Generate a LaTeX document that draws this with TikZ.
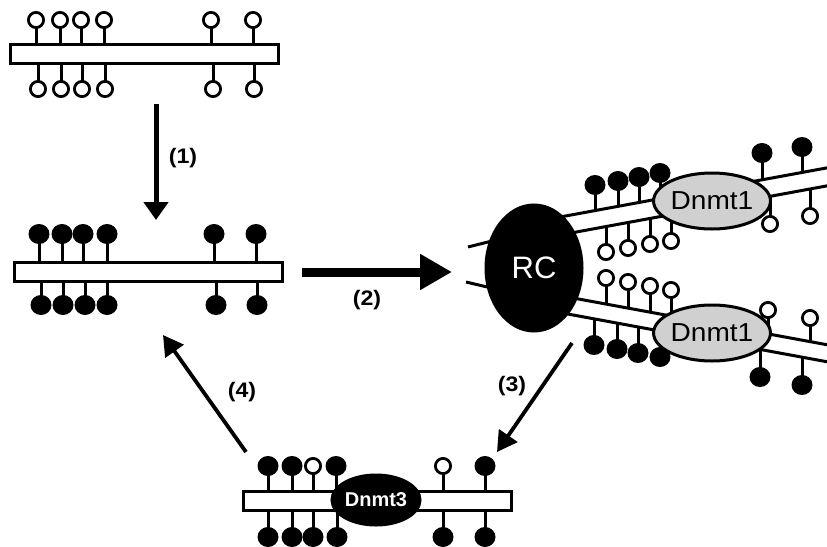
\documentclass[tikz,border=0pt]{standalone}
\usepackage{fontspec}
\setmainfont{Liberation Sans}
\usepackage{graphicx}
\usetikzlibrary{arrows.meta,shapes.geometric}
\definecolor{enzgray}{RGB}{208,208,208}
\tikzset{
  dna/.style={draw, line width=3pt, fill=white, inner sep=0pt, rectangle, minimum width=268pt, minimum height=19pt},
  strand/.style={line width=3pt},
  stick/.style={line width=3pt},
  ucirc/.style={draw, line width=2.8pt, fill=white},
  enz/.style={ellipse, draw, line width=3pt, inner sep=0pt},
  lbl/.style={font=\bfseries\fontsize{21}{21}\selectfont},
  arrthin/.style={line width=3.8pt, -{Triangle[length=20pt,width=22pt]}},
}
\newcommand\lolM[3]{\draw[stick] (#1,#2) -- (#1,#3); \fill (#1,#3) ellipse[x radius=10.5,y radius=10];}
\newcommand\lolU[3]{\draw[stick] (#1,#2) -- (#1,#3); \draw[ucirc] (#1,#3) circle[radius=7.6];}
\begin{document}
\begin{tikzpicture}[x=1pt,y=-1pt]
\useasboundingbox (0,0) rectangle (827,546);
\fill[white] (0,0) rectangle (827,546);
\clip (0,0) rectangle (827,546);

% ---- top DNA (unmethylated)
\foreach \x in {36,60,81,104,211,253} {\lolU{\x}{45}{20}}
\foreach \x in {38,61,82,105,213,254} {\lolU{\x}{63}{89}}
\node[dna] (d0) at (144,54) {};

% ---- middle DNA (methylated)
\foreach \x in {39,62,83,107,214,256} {\lolM{\x}{263}{234}}
\foreach \x in {41,63,85,107,216,257} {\lolM{\x}{281}{305}}
\node[dna] (d1) at (148,272) {};

% ---- bottom DNA with Dnmt3
\foreach \x in {268,292,336,485} {\lolM{\x}{491}{466}}
\foreach \x in {313,443} {\lolU{\x}{491}{466}}
\foreach \x in {268,292,313,337,443,485} {\lolM{\x}{511}{537}}
\node[dna] (d3) at (377,501) {};
\node[enz, fill=black, minimum width=86pt, minimum height=50pt, text=white,
      font=\bfseries\fontsize{20}{20}\selectfont] (dm3) at (376,500) {Dnmt3};

% ---- replication fork
\draw[strand] (468,247) -- (500,239);
\draw[strand] (466,282) -- (500,290);
% upper daughter strand
\draw[strand] (540,220.7) -- (830,167.3);
\draw[strand] (540,238.7) -- (830,185.3);
% lower daughter strand
\draw[strand] (540,291.9) -- (830,345.3);
\draw[strand] (540,308.9) -- (830,362.3);

% upper strand lollipops
\lolM{595}{210.6}{185} \lolM{618}{206.3}{181} \lolM{639}{202.5}{177} \lolM{660}{198.6}{173}
\lolM{762}{179.8}{153} \lolM{802}{172.5}{147}
\lolU{606}{226.5}{252} \lolU{628}{222.5}{248} \lolU{650}{218.4}{244} \lolU{671}{214.6}{241}
\lolU{770}{196.4}{224} \lolU{810}{189}{216}
% lower strand lollipops
\lolU{606}{304.1}{278} \lolU{628}{308.1}{282} \lolU{650}{312.2}{286} \lolU{671}{316}{290}
\lolU{768}{333.9}{310} \lolU{810}{341.6}{318}
\lolM{594}{318.9}{345} \lolM{617}{323.1}{349} \lolM{638}{327}{353} \lolM{660}{331}{357}
\lolM{760}{349.4}{377} \lolM{802}{357.1}{385}

\node[enz, fill=black, minimum width=96pt, minimum height=126pt, text=white,
      font=\fontsize{31}{31}\selectfont] (rc) at (534,268) {RC};
\node[enz, fill=enzgray, minimum width=100pt, minimum height=56pt,
      font=\fontsize{26}{26}\selectfont] (dm1a) at (712,201) {\scalebox{1.08}[1]{Dnmt1}};
\node[enz, fill=enzgray, minimum width=100pt, minimum height=56pt,
      font=\fontsize{26}{26}\selectfont] (dm1b) at (712,333) {\scalebox{1.08}[1]{Dnmt1}};

% ---- arrows
\coordinate (a1s) at (156,104);
\coordinate (a1e) at (156,220);
\draw[line width=5pt, -{Triangle[length=18pt,width=24pt]}] (a1s) -- (a1e);
\node[lbl] (l1) at (183,158) {\scalebox{1.1}[1]{(1)}};

\coordinate (a2s) at (302,272);
\coordinate (a2e) at (452,272);
\draw[line width=9pt, -{Triangle[length=32pt,width=34pt]}] (a2s) -- (a2e);
\node[lbl] (l2) at (367,300) {\scalebox{1.1}[1]{(2)}};

\coordinate (a3s) at (572,343);
\coordinate (a3e) at (497,452);
\draw[arrthin] (a3s) -- (a3e);
\node[lbl] (l3) at (512,386) {\scalebox{1.1}[1]{(3)}};

\coordinate (a4s) at (246,452);
\coordinate (a4e) at (163,335);
\draw[arrthin] (a4s) -- (a4e);
\node[lbl] (l4) at (242,392) {\scalebox{1.1}[1]{(4)}};
\end{tikzpicture}
\end{document}
